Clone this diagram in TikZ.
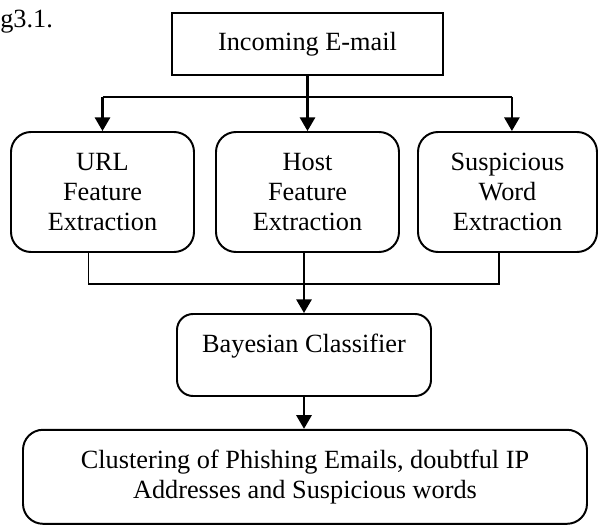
\documentclass[tikz,border=0pt]{standalone}
\usepackage{fontspec}
\setmainfont{Liberation Serif}
\usepackage{tikz}
\usetikzlibrary{arrows.meta,calc,positioning}

\begin{document}
\begin{tikzpicture}[
    font=\fontsize{18.7}{21.3}\selectfont,
    stagebox/.style={draw,line width=1.4pt,rounded corners=0.5cm,align=center,inner sep=0pt},
    flow/.style={line width=1.5pt,-{Triangle[length=0.34cm,width=0.38cm]}},
    mergeline/.style={line width=0.9pt}]
  \useasboundingbox (0,0) rectangle (14.95,13.1);
  \node[anchor=base west,inner sep=0pt] (figref) at (0,12.4) {g3.1.};
  \node[draw,line width=1.4pt,minimum width=6.775cm,minimum height=1.55cm] (mail) at (7.6875,12.0) {Incoming E-mail};
  \node[stagebox,minimum width=4.575cm,minimum height=3cm] (url) at (2.5625,8.3) {URL\\Feature\\Extraction};
  \node[stagebox,minimum width=4.575cm,minimum height=3cm] (host) at (7.6875,8.3) {Host\\Feature\\Extraction};
  \node[stagebox,minimum width=4.475cm,minimum height=3cm] (word) at (12.6875,8.3) {Suspicious\\Word\\Extraction};
  \node[stagebox,rounded corners=0.4cm,minimum width=6.35cm,minimum height=2.05cm] (bayes) at (7.6,4.225) {};
  \node (bayestxt) at (7.6,4.45) {Bayesian Classifier};
  \node[stagebox,minimum width=14.1cm,minimum height=2.35cm] (cluster) at (7.625,1.18) {Clustering of Phishing Emails, doubtful IP\\Addresses and Suspicious words};
  % fork from the mail box to the three extractors
  \coordinate (fork) at (mail.south |- 0,10.675);
  \draw[line width=1.5pt] (mail.south) -- (fork);
  \draw[line width=1.5pt] (url.north |- fork) -- ([xshift=0.11cm]word.north |- fork);
  \draw[flow] (url.north |- fork) -- (url.north);
  \draw[flow] (fork) -- (fork |- host.north);
  \draw[flow] ([xshift=0.11cm]word.north |- fork) -- ([xshift=0.11cm]word.north);
  % merge into the classifier
  \coordinate (merge) at (bayes.north |- 0,6.0);
  \draw[mergeline] ([xshift=-0.35cm]url.south) -- ([xshift=-0.35cm]url.south |- merge) -- ([xshift=-0.2125cm]word.south |- merge) -- ([xshift=-0.2125cm]word.south);
  \draw[mergeline] (host.south -| merge) -- (merge);
  \draw[flow] (merge) -- (bayes.north);
  \draw[flow] (bayes.south) -- (bayes.south |- cluster.north);
\end{tikzpicture}
\end{document}
